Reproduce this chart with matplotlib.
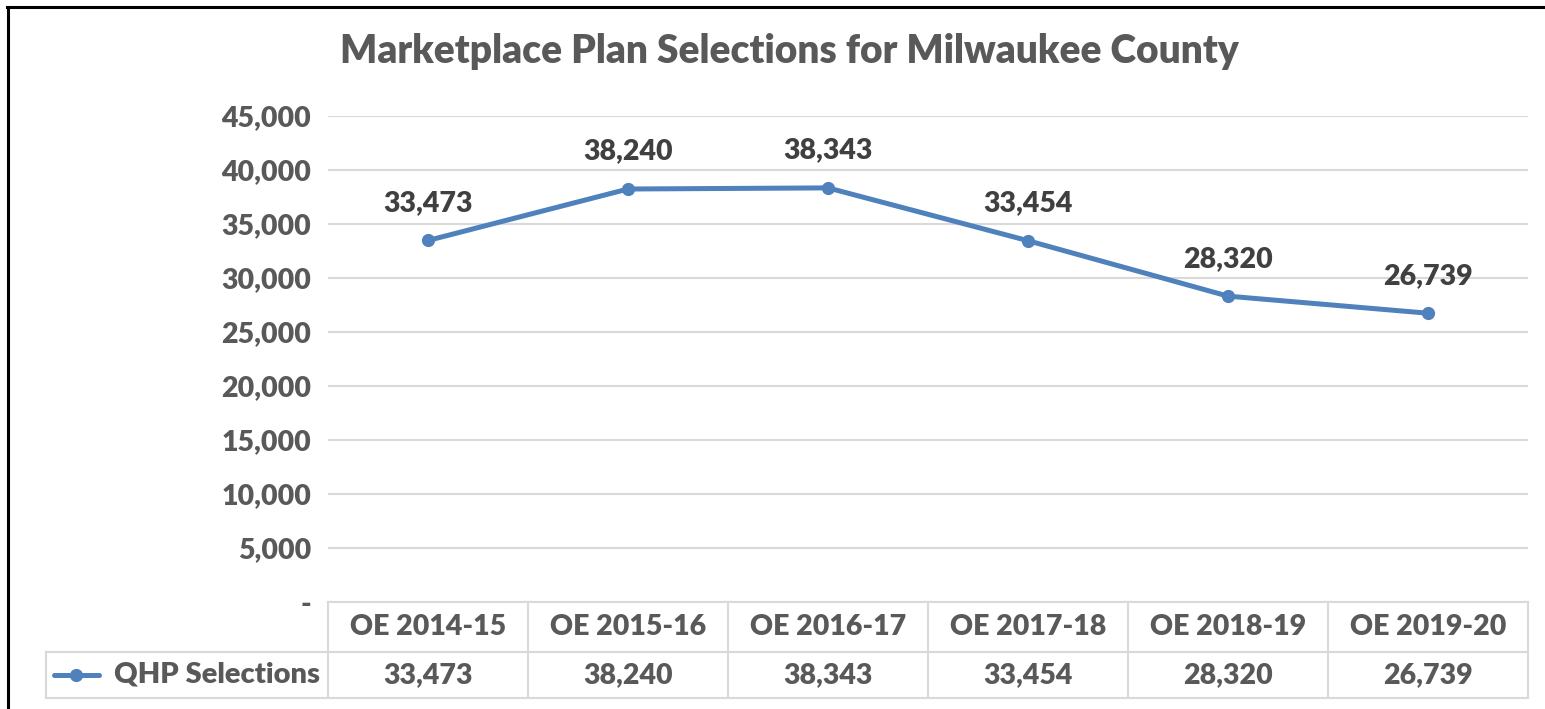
import matplotlib.pyplot as plt
from matplotlib.lines import Line2D
from matplotlib.ticker import FuncFormatter
from matplotlib.transforms import blended_transform_factory

periods = ['OE 2014-15', 'OE 2015-16', 'OE 2016-17',
           'OE 2017-18', 'OE 2018-19', 'OE 2019-20']
selections = [33473, 38240, 38343, 33454, 28320, 26739]
series_name = 'QHP Selections'
title = 'Marketplace Plan Selections for Milwaukee County'

W, H = 1545, 709
blue = '#4F81BD'
gray = '#595959'
dark = '#404040'
grid = '#D9D9D9'
wt = 'heavy'

plt.rcParams['font.family'] = ['Lato', 'DejaVu Sans']

fig = plt.figure(figsize=(W / 100, H / 100), dpi=100)


def fx(px):
    return px / W


def fy(py):
    return 1 - py / H


# plot area in pixels
left, right, top, bottom = 328, 1528, 116, 602
ax = fig.add_axes([fx(left), fy(bottom), fx(right - left), (bottom - top) / H])

x = list(range(len(periods)))
ax.plot(x, selections, color=blue, lw=3.6, marker='o', ms=8.5,
        solid_capstyle='round', zorder=3)
for xi, v in zip(x, selections):
    ax.annotate(f'{v:,}', (xi, v), xytext=(0, 27), textcoords='offset points',
                ha='center', va='center', fontsize=20.5, color=dark,
                fontweight=wt)

ax.set_xlim(-0.5, len(periods) - 0.5)
ax.set_ylim(0, 45000)
ax.set_yticks(range(0, 45001, 5000))
ax.yaxis.set_major_formatter(FuncFormatter(lambda v, p: '-' if v == 0 else f'{int(v):,}'))
ax.tick_params(axis='y', length=0, pad=12, labelsize=20.5, labelcolor=gray)
for t in ax.get_yticklabels():
    t.set_fontweight(wt)
ax.set_xticks([])
ax.grid(axis='y', color=grid, lw=1.5)
ax.set_axisbelow(True)
for s in ax.spines.values():
    s.set_visible(False)

fig.text(fx(789), fy(52), title, ha='center', va='center',
         fontsize=28, color=gray, fontweight=wt)

# data table under the plot
tr = blended_transform_factory(ax.transData, fig.transFigure)
row1, row2, row3 = 602, 652, 698
for k in range(len(periods) + 1):
    xe = k - 0.5
    fig.add_artist(Line2D([xe, xe], [fy(row1), fy(row3)], transform=tr,
                          color=grid, lw=1.5, clip_on=False))
fig.add_artist(Line2D([-0.5, len(periods) - 0.5], [fy(row1), fy(row1)],
                      transform=tr, color=grid, lw=1.5))
fig.add_artist(Line2D([fx(46), fx(right)], [fy(row2), fy(row2)],
                      transform=fig.transFigure, color=grid, lw=1.5))
fig.add_artist(Line2D([fx(46), fx(right)], [fy(row3), fy(row3)],
                      transform=fig.transFigure, color=grid, lw=1.5))
fig.add_artist(Line2D([fx(46), fx(46)], [fy(row2), fy(row3)],
                      transform=fig.transFigure, color=grid, lw=1.5))

for xi, lab, v in zip(x, periods, selections):
    fig.text(xi, fy((row1 + row2) / 2), lab, transform=tr, ha='center',
             va='center', fontsize=20.5, color=gray, fontweight=wt)
    fig.text(xi, fy((row2 + row3) / 2), f'{v:,}', transform=tr, ha='center',
             va='center', fontsize=20.5, color=gray, fontweight=wt)

# legend key in the table
ym = fy((row2 + row3) / 2)
fig.add_artist(Line2D([fx(54), fx(99)], [ym, ym], transform=fig.transFigure,
                      color=blue, lw=3.6, solid_capstyle='round'))
fig.add_artist(Line2D([fx(76)], [ym], transform=fig.transFigure, color=blue,
                      marker='o', ms=8.5))
fig.text(fx(320), ym, series_name, ha='right', va='center', fontsize=21,
         color=gray, fontweight=wt)

# outer frame (top and left edges)
fig.add_artist(Line2D([fx(7), 1], [fy(7), fy(7)], transform=fig.transFigure,
                      color='black', lw=2.2))
fig.add_artist(Line2D([fx(8), fx(8)], [fy(7), 0], transform=fig.transFigure,
                      color='black', lw=2.2))

fig.savefig('out.png', dpi=100)
